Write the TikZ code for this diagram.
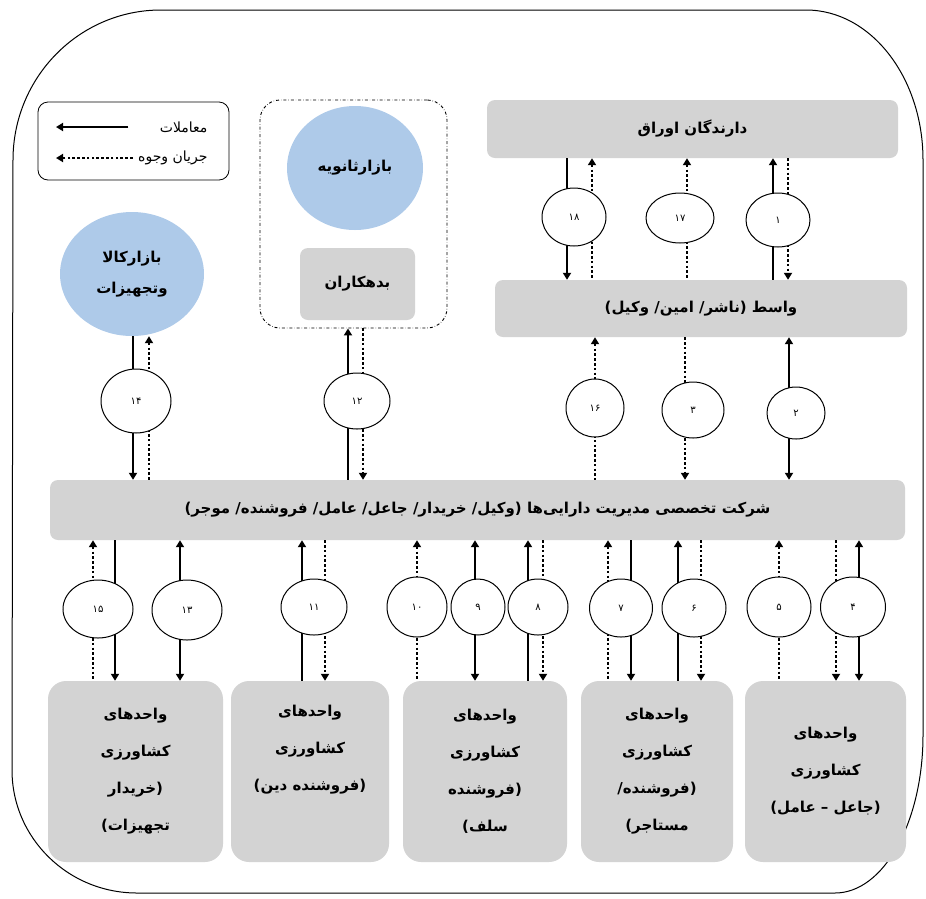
\documentclass[tikz,border=0pt]{standalone}
\usepackage{fontspec}
\newfontfamily\fa[Script=Arabic]{DejaVu Sans}
\TeXXeTstate=1
\usetikzlibrary{arrows.meta,shapes.geometric}

\definecolor{boxgray}{RGB}{211,211,211}
\definecolor{mktblue}{RGB}{174,202,233}

\newcommand\rl[1]{\beginR #1\endR}

\tikzset{
	box/.style={fill=boxgray,rounded corners=8pt,align=center,inner sep=0pt,
		font=\fa\bfseries\fontsize{15}{31}\selectfont},
	unit/.style={box,rounded corners=18pt,minimum height=181pt,
		font=\fa\bfseries\fontsize{15}{37}\selectfont},
	mkt/.style={ellipse,fill=mktblue,align=center,inner sep=0pt,
		font=\fa\bfseries\fontsize{15}{31}\selectfont},
	num/.style={ellipse,draw,line width=1pt,fill=white,inner sep=0pt,
		font=\fa\fontsize{10}{11}\selectfont},
	deal/.style={line width=2pt},
	cash/.style={line width=2.4pt,dash pattern=on 2.6pt off 2.2pt},
	tipstart/.style={<-},
	tipend/.style={->},
	tipboth/.style={<->},
	tipnone/.style={},
	>={Triangle[width=8pt,length=7pt]}
}

\begin{document}
\begin{tikzpicture}[x=1pt,y=-1pt]

	\useasboundingbox (0,0) rectangle (926,898);

	\draw[line width=1pt] (13,160) arc[start angle=180,end angle=90,x radius=148pt,y radius=150pt]
		-- (806,10) arc[start angle=90,end angle=0,x radius=117pt,y radius=150pt]
		-- (923,735) arc[start angle=0,end angle=-90,x radius=88pt,y radius=158pt]
		-- (137,893) arc[start angle=270,end angle=180,x radius=125pt,y radius=123pt] -- cycle;

	\node[draw,line width=.8pt,rounded corners=10pt,minimum width=191pt,minimum height=78pt] (legend) at (133.5,141) {};
	\node[anchor=east,font=\fa\fontsize{14}{15}\selectfont] (l_deal) at (211,127) {\rl{معاملات}};
	\node[anchor=east,font=\fa\fontsize{14}{15}\selectfont] (l_cash) at (211,158) {\rl{جریان وجوه}};
	\coordinate (l_end1) at (56,127);
	\coordinate (l_end2) at (56,158);
	\draw[deal,->,shorten <=28pt] (l_deal.west) -- (l_end1);
	\draw[cash,->,shorten <=2pt] (l_cash.west) -- (l_end2);

	\node[box,minimum width=411pt,minimum height=58pt] (holders) at (692.5,129) {\rl{دارندگان اوراق}};
	\node[box,minimum width=412pt,minimum height=57pt] (wasit) at (701,308.5) {\rl{واسط (ناشر/ امین/ وکیل)}};
	\node[box,minimum width=855pt,minimum height=60pt] (company) at (477.5,510)
		{\rl{شرکت تخصصی مدیریت دارایی‌ها (وکیل/ خریدار/ جاعل/ عامل/ فروشنده/ موجر)}};

	\node[draw,dash dot,line width=.9pt,rounded corners=20pt,minimum width=187pt,minimum height=228pt] (market) at (353.5,214) {};
	\node[mkt,minimum width=136pt,minimum height=124pt] (second) at (355,168) {\rl{بازارثانویه}};
	\node[box,minimum width=115pt,minimum height=72pt] (debtors) at (357.5,284) {\rl{بدهکاران}};
	\node[mkt,minimum width=144pt,minimum height=124pt] (kala) at (132,274) {\rl{بازارکالا}\\\rl{وتجهیزات}};

	\node[unit,minimum width=175pt] (u_1) at (135.5,771.5) {\rl{واحدهای}\\\rl{کشاورزی}\\\rl{(خریدار}\\\rl{تجهیزات)}};
	\node[unit,minimum width=158pt] (u_2) at (310,771.5) {\rl{واحدهای}\\\rl{کشاورزی}\\\rl{(فروشنده دین)}\\\strut};
	\node[unit,minimum width=164pt] (u_3) at (485,771.5) {\rl{واحدهای}\\\rl{کشاورزی}\\\rl{(فروشنده}\\\rl{سلف)}};
	\node[unit,minimum width=152pt] (u_4) at (657,771.5) {\rl{واحدهای}\\\rl{کشاورزی}\\\rl{(فروشنده/}\\\rl{مستاجر)}};
	\node[unit,minimum width=161pt] (u_5) at (825.5,771.5) {\rl{واحدهای}\\\rl{کشاورزی}\\\rl{(جاعل – عامل)}};

	\foreach \x/\s/\a in {567/deal/tipend, 592/cash/tipstart, 687/cash/tipstart, 773/deal/tipstart, 788/cash/tipend}
		\draw[\s,\a] (holders.south -| \x,0) -- (wasit.north -| \x,0);

	\draw[deal,tipend] (kala.south -| 133,0) -- (company.north -| 133,0);
	\draw[cash,tipstart] (kala.south -| 149,0) -- (company.north -| 149,0);
	\draw[deal,tipstart] (market.south -| 348,0) -- (company.north -| 348,0);
	\draw[cash,tipend] (market.south -| 363,0) -- (company.north -| 363,0);
	\foreach \x/\s/\a in {595/cash/tipstart, 685/cash/tipend, 789/deal/tipboth}
		\draw[\s,\a] (wasit.south -| \x,0) -- (company.north -| \x,0);

	\foreach \x/\s/\a/\u in {93/cash/tipstart/u_1, 115/deal/tipend/u_1, 180/deal/tipboth/u_1,
			302/deal/tipstart/u_2, 325/cash/tipend/u_2,
			417/cash/tipstart/u_3, 475/deal/tipboth/u_3, 528/deal/tipstart/u_3, 543/cash/tipend/u_3,
			608/cash/tipstart/u_4, 631/deal/tipend/u_4, 678/deal/tipstart/u_4, 701/cash/tipend/u_4,
			779/cash/tipstart/u_5, 836/cash/tipend/u_5, 859/deal/tipboth/u_5}
		\draw[\s,\a] (company.south -| \x,0) -- (\u.north -| \x,0);

	\foreach \n/\t/\x/\y/\w/\h in {18/۱۸/574/217/64/58, 17/۱۷/680/218/68/50, 1/۱/778/220/64/54,
			14/۱۴/136/401/70/64, 12/۱۲/357/401/66/56, 16/۱۶/595/408/58/58, 3/۳/693/410/62/56, 2/۲/796/413/58/52,
			15/۱۵/98/609/70/58, 13/۱۳/187/610/70/60, 11/۱۱/314/607/66/56, 10/۱۰/417/607/60/60, 9/۹/478/607/54/56,
			8/۸/538/607/60/56, 7/۷/621/608/63/58, 6/۶/694/608/64/58, 5/۵/779/607/64/60, 4/۴/853/607/65/60}
		\node[num,minimum width=\w pt,minimum height=\h pt] (e_\n) at (\x,\y) {\t};

\end{tikzpicture}
\end{document}
